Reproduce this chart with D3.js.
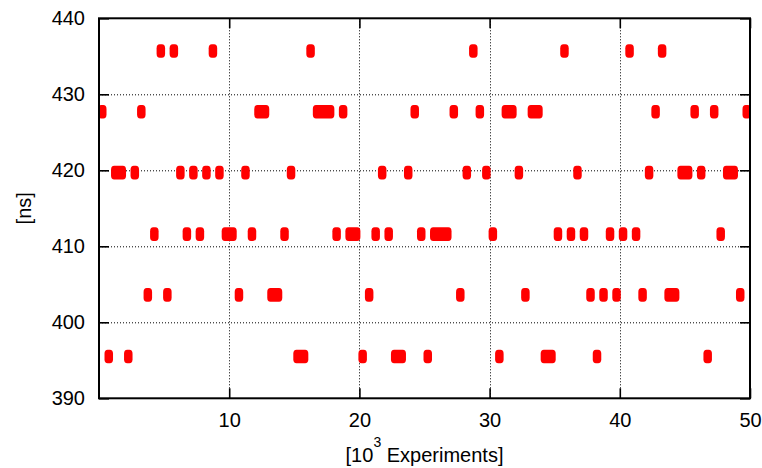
<!DOCTYPE html>
<html>
<head>
<meta charset="utf-8">
<script src="https://cdn.jsdelivr.net/npm/d3@7"></script>
<style>
  html, body { margin: 0; padding: 0; background: #fff; }
  svg { display: block; }
  text { font-family: "Liberation Sans", Arial, Helvetica, sans-serif; fill: #000; }
</style>
</head>
<body>
<svg id="chart" width="762" height="468"></svg>
<script>
// Measured latency of each batch of 500 experiments (x in thousands of experiments)
const batchSize = 0.5;          // 10^3 experiments per batch
const batchSpreadNs = 0.9;      // half-height of the measurement scatter within a batch
const batchNs = [
  427.7, 395.5, 419.7, 419.7, 395.5, 419.7, 427.7, 403.6, 411.6, 435.7,
  403.6, 435.7, 419.7, 411.6, 419.7, 411.6, 419.7, 435.7, 419.7, 411.6,
  411.6, 403.6, 419.7, 411.6, 427.7, 427.7, 403.6, 403.6, 411.6, 419.7,
  395.5, 395.5, 435.7, 427.7, 427.7, 427.7, 411.6, 427.7, 411.6, 411.6,
  395.5, 403.6, 411.6, 419.7, 411.6, 395.5, 395.5, 419.7, 427.7, 411.6,
  395.5, 411.6, 411.6, 411.6, 427.7, 403.6, 419.7, 435.7, 427.7, 419.7,
  411.6, 395.5, 427.7, 427.7, 419.7, 403.6, 427.7, 427.7, 395.5, 395.5,
  411.6, 435.7, 411.6, 419.7, 411.6, 403.6, 395.5, 403.6, 411.6, 403.6,
  411.6, 435.7, 411.6, 403.6, 419.7, 427.7, 435.7, 403.6, 403.6, 419.7,
  419.7, 427.7, 419.7, 395.5, 427.7, 411.6, 419.7, 419.7, 403.6, 427.7
];

const xTickValues = [10, 20, 30, 40, 50];
const yTickValues = [390, 400, 410, 420, 430, 440];
const xTickLabels = ["10", "20", "30", "40", "50"];
const yTickLabels = ["390", "400", "410", "420", "430", "440"];

const W = 762, H = 468;
const margin = { top: 18.3, right: 12, bottom: 69.7, left: 99 };
const iw = W - margin.left - margin.right;
const ih = H - margin.top - margin.bottom;

const svg = d3.select("#chart");
const g = svg.append("g").attr("transform", `translate(${margin.left},${margin.top})`);

const x = d3.scaleLinear().domain([0, 50]).range([0, iw]);
const y = d3.scaleLinear().domain([390, 440]).range([ih, 0]);

// consecutive batches at the same latency form one continuous cluster
const runs = [];
batchNs.forEach((v, i) => {
  const last = runs[runs.length - 1];
  if (last && last.ns === v && last.end === i) last.end = i + 1;
  else runs.push({ ns: v, start: i, end: i + 1 });
});

// dotted grid
const grid = g.append("g").attr("class", "grid");
grid.selectAll("line.gx")
  .data(xTickValues.filter(v => v < 50))
  .join("line")
  .attr("x1", d => Math.round(x(d)) + 0.5).attr("x2", d => Math.round(x(d)) + 0.5)
  .attr("y1", 0).attr("y2", ih)
  .attr("stroke", "#000").attr("stroke-width", 1).attr("stroke-dasharray", "1,2");
grid.selectAll("line.gy")
  .data(yTickValues.filter(v => v > 390 && v < 440))
  .join("line")
  .attr("y1", d => Math.round(y(d)) + 0.5).attr("y2", d => Math.round(y(d)) + 0.5)
  .attr("x1", 0).attr("x2", iw)
  .attr("stroke", "#000").attr("stroke-width", 1).attr("stroke-dasharray", "1,2");

// clusters of measurements
g.append("g").attr("class", "points")
  .selectAll("rect")
  .data(runs)
  .join("rect")
  .attr("x", d => x(d.start * batchSize) - 1)
  .attr("width", d => x(d.end * batchSize) - x(d.start * batchSize) + 2)
  .attr("y", d => y(d.ns + batchSpreadNs))
  .attr("height", d => y(d.ns - batchSpreadNs) - y(d.ns + batchSpreadNs))
  .attr("rx", 3.2).attr("ry", 4)
  .attr("fill", "#ff0000");

// axes with inward ticks on all four sides
const fmtX = d => xTickLabels[xTickValues.indexOf(d)];
const fmtY = d => yTickLabels[yTickValues.indexOf(d)];

const axB = g.append("g").attr("transform", `translate(0,${ih})`)
  .call(d3.axisBottom(x).tickValues(xTickValues).tickFormat(fmtX).tickSize(-10).tickPadding(14.5));
const axL = g.append("g")
  .call(d3.axisLeft(y).tickValues(yTickValues).tickFormat(fmtY).tickSize(-10).tickPadding(14));
const axT = g.append("g")
  .call(d3.axisTop(x).tickValues(xTickValues).tickFormat("").tickSize(-10));
const axR = g.append("g").attr("transform", `translate(${iw},0)`)
  .call(d3.axisRight(y).tickValues(yTickValues).tickFormat("").tickSize(-10));

[axB, axL, axT, axR].forEach(a => {
  a.select(".domain").remove();
  a.selectAll(".tick line").attr("stroke", "#000").attr("stroke-width", 1.6);
  a.selectAll(".tick text").attr("font-size", 20).attr("fill", "#000")
    .style("font-family", "'Liberation Sans', Arial, sans-serif");
});

// border
g.append("rect")
  .attr("x", 0).attr("y", 0).attr("width", iw).attr("height", ih)
  .attr("fill", "none").attr("stroke", "#000").attr("stroke-width", 2);

// axis titles
svg.append("text")
  .attr("transform", `translate(31,${margin.top + ih / 2}) rotate(-90)`)
  .attr("text-anchor", "middle")
  .attr("font-size", 20)
  .text("[ns]");

const xt = svg.append("text")
  .attr("x", margin.left + iw / 2)
  .attr("y", 461.5)
  .attr("text-anchor", "middle")
  .attr("font-size", 20);
xt.append("tspan").text("[10");
xt.append("tspan").attr("font-size", 14).attr("dy", -15).text("3");
xt.append("tspan").attr("dy", 15).text(" Experiments]");
</script>
</body>
</html>
